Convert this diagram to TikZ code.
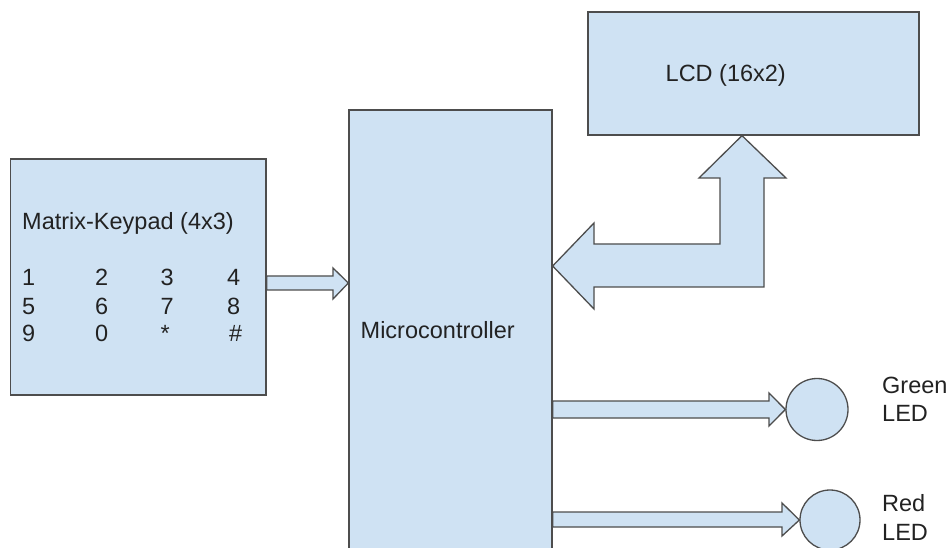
\documentclass[tikz,border=0pt]{standalone}
\usepackage{fontspec}
\setmainfont{Liberation Sans}
\definecolor{boxfill}{HTML}{CFE2F3}
\definecolor{boxline}{HTML}{4D4D4D}
\definecolor{ink}{HTML}{222222}
\begin{document}
\begin{tikzpicture}[x=1pt,y=-1pt,
  font=\fontsize{23.5}{28.5}\selectfont,
  box/.style={draw=boxline, fill=boxfill, line width=1.3pt, inner sep=0pt, rectangle},
  led/.style={draw=boxline, fill=boxfill, line width=1.3pt, inner sep=0pt, circle},
  blk/.style={draw=boxline, fill=boxfill, line width=1.3pt, line join=miter},
  txt/.style={text=ink, inner sep=0pt, anchor=base west}]
\clip (0,0) rectangle (951,548);
\fill[white] (0,0) rectangle (951,548);

% blocks
\node[box, minimum width=255.5pt, minimum height=236pt] (kp) at (138.25,277) {};
\node[box, minimum width=203pt, minimum height=460pt] (mc) at (450.5,340) {};
\node[box, minimum width=331pt, minimum height=123pt] (lcd) at (753.5,73.5) {};
\node[led, minimum size=62pt] (gled) at (817,409.5) {};
\node[led, minimum size=60pt] (rled) at (830,520) {};

% texts
\node[txt] (kpt) at (22,230) {Matrix-Keypad (4x3)};
\node[txt] (k1) at (22,286) {1};
\node[txt] (k2) at (95,286) {2};
\node[txt] (k3) at (160.5,286) {3};
\node[txt] (k4) at (227,286) {4};
\node[txt] (k5) at (22,314) {5};
\node[txt] (k6) at (95,314) {6};
\node[txt] (k7) at (160.5,314) {7};
\node[txt] (k8) at (227,314) {8};
\node[txt] (k9) at (22,341.5) {9};
\node[txt] (k0) at (95,341.5) {0};
\node[txt] (kst) at (160.5,341.5) {*};
\node[txt] (khs) at (229,341.5) {\#};
\node[txt] (mct) at (360.5,338.3) {Microcontroller};
\node[txt] (lcdt) at (665.5,81.7) {LCD (16x2)};
\node[txt] (gt1) at (882,393) {Green};
\node[txt] (gt2) at (882,421.7) {LED};
\node[txt] (rt1) at (882,511.7) {Red};
\node[txt] (rt2) at (882,540) {LED};

% keypad -> microcontroller
\draw[blk] (kp.east |- 0,276) -- (333,276) -- (333,268)
  -- (mc.west |- 0,283) -- (333,299) -- (333,290) -- (kp.east |- 0,290) -- cycle;

% microcontroller <-> LCD
\draw[blk] (mc.east |- 0,266) -- (594,223) -- (594,244) -- (720,244) -- (720,178)
  -- (699,178) -- (742,0 |- lcd.south) -- (786,178) -- (764,178) -- (764,287)
  -- (594,287) -- (594,309) -- cycle;

% microcontroller -> green LED
\draw[blk] (mc.east |- 0,401) -- (769,401) -- (769,393) -- (gled.west)
  -- (769,426) -- (769,418) -- (mc.east |- 0,418) -- cycle;

% microcontroller -> red LED
\draw[blk] (mc.east |- 0,512) -- (782,512) -- (782,503) -- (rled.west)
  -- (782,536) -- (782,527) -- (mc.east |- 0,527) -- cycle;
\end{tikzpicture}
\end{document}
